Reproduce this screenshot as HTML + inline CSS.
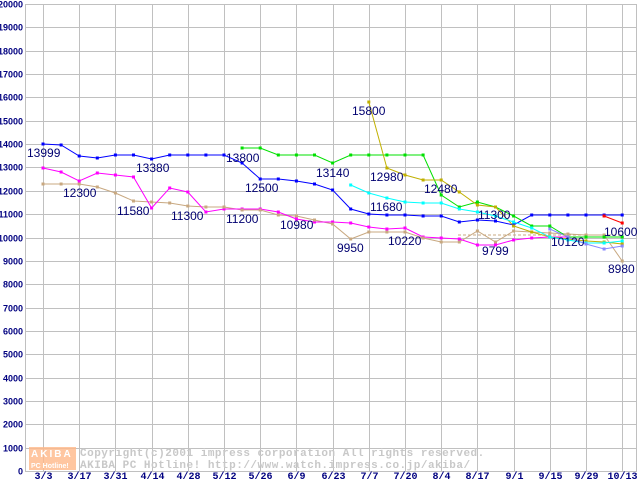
<!DOCTYPE html>
<html><head><meta charset="utf-8"><style>
html,body{margin:0;padding:0;background:#fff;}
svg{display:block;}
.yl{font:bold 9px "Liberation Sans",sans-serif;fill:#000080;}
.xl{font:bold 10px "Liberation Mono",monospace;fill:#000080;}
.lb{font:12px "Liberation Sans",sans-serif;fill:#000070;}
.wm{font:bold 11px "Liberation Mono",monospace;fill:#c8c8c8;letter-spacing:0.5px;}
</style></head><body>
<svg width="640" height="480" viewBox="0 0 640 480" xmlns="http://www.w3.org/2000/svg">
<rect width="640" height="480" fill="#fff"/>
<g stroke="#c0c0c0" stroke-width="1" id="grid"></g>
<g id="ylab"></g><g id="xlab"></g>
<g fill="none" stroke-width="1">
<polyline id="tan" stroke="#c8a880"/>
<polyline id="mag" stroke="#ff00ff"/>
<polyline id="blue" stroke="#0000ff"/>
<polyline id="green" stroke="#00e000"/>
<polyline id="olive" stroke="#c0b000"/>
<polyline id="cyan" stroke="#00ffff"/>
<polyline id="lav" stroke="#8888ff"/>
<polyline id="red" stroke="#ff0000"/>
<polyline points="458,235 622,235" stroke="#c8a880" stroke-dasharray="3,2"/>
</g>
<g id="marks"></g>
<g class="lb">
<text x="27" y="157">13999</text>
<text x="63" y="197">12300</text>
<text x="136" y="172">13380</text>
<text x="117" y="215">11580</text>
<text x="171" y="220">11300</text>
<text x="226" y="223">11200</text>
<text x="226" y="162">13800</text>
<text x="245" y="192">12500</text>
<text x="280" y="229">10980</text>
<text x="316" y="177">13140</text>
<text x="337" y="252">9950</text>
<text x="352" y="115">15800</text>
<text x="370" y="211">11680</text>
<text x="370" y="181">12980</text>
<text x="388" y="245">10220</text>
<text x="424" y="193">12480</text>
<text x="478" y="219">11300</text>
<text x="482" y="255">9799</text>
<text x="551" y="246">10120</text>
<text x="604" y="236">10600</text>
<text x="608" y="273">8980</text>
</g>
<rect x="29" y="447" width="47" height="23" fill="#ffb888" opacity="0.8"/>
<text x="31" y="457" style="font:bold 10px 'Liberation Sans',sans-serif;fill:#fff;letter-spacing:2px">AKIBA</text>
<text x="31" y="468" style="font:bold 7px 'Liberation Sans',sans-serif;fill:#fff">PC Hotline!</text>
<text x="80" y="456" class="wm">Copyright(c)2001 impress corporation All rights reserved.</text>
<text x="80" y="468" class="wm">AKIBA PC Hotline!  http://www.watch.impress.co.jp/akiba/</text>
</svg>
<script>
const NS="http://www.w3.org/2000/svg";
const X=k=>43+18.1*k, Y=v=>471-v*0.02335;
const g=document.getElementById('grid');
function el(p,t,a){const e=document.createElementNS(NS,t);for(const k in a)e.setAttribute(k,a[k]);p.appendChild(e);return e;}
for(let i=0;i<=20;i++){const y=Math.round(Y(i*1000))+0.5;el(g,'line',{x1:25,x2:637,y1:y,y2:y});
 const t=el(document.getElementById('ylab'),'text',{x:23,y:y+3,'text-anchor':'end','class':'yl'});t.textContent=i*1000;}
el(g,'line',{x1:25.5,x2:25.5,y1:4,y2:472});el(g,'line',{x1:636.5,x2:636.5,y1:4,y2:472});
const xs=["3/3","3/17","3/31","4/14","4/28","5/12","5/26","6/9","6/23","7/7","7/20","8/4","8/17","9/1","9/15","9/29","10/13"];
xs.forEach((s,i)=>{const x=Math.round(X(2*i))+0.5;el(g,'line',{x1:x,x2:x,y1:4,y2:472});
 const t=el(document.getElementById('xlab'),'text',{x:x,y:479,'text-anchor':'middle','class':'xl'});t.textContent=s;});
const S={
blue:[[0,144],[1,145],[2,156],[3,158],[4,155],[5,155],[6,159],[7,155],[8,155],[9,155],[10,155],[11,163],[12,179],[13,179],[14,181],[15,184],[16,190],[17,209],[18,214],[19,215],[20,215],[21,216],[22,216],[23,222],[24,220],[25,221],[26,225],[27,215],[28,215],[29,215],[30,215],[31,215],[32,215]],
mag:[[0,168],[1,172],[2,181],[3,173],[4,175],[5,177],[6,208],[7,188],[8,192],[9,212],[10,209],[11,209],[12,209],[13,212],[14,219],[15,222],[16,222],[17,223],[18,227],[19,229],[20,228],[21,237],[22,238],[23,239],[24,245],[25,245],[26,240],[27,238],[28,237],[29,237],[30,237],[31,237],[32,237]],
tan:[[0,184],[1,184],[2,184],[3,187],[4,193],[5,201],[6,202],[7,203],[8,206],[9,207],[10,207],[11,210],[12,210],[13,215],[14,216],[15,220],[16,224],[17,239],[18,232],[19,232],[20,232],[21,238],[22,242],[23,242],[24,231],[25,242],[26,231],[27,232],[28,233],[29,234],[30,235],[31,235],[32,261]],
green:[[11,148],[12,148],[13,155],[14,155],[15,155],[16,163],[17,155],[18,155],[19,155],[20,155],[21,155],[22,195],[23,207],[24,202],[25,207],[26,216],[27,226],[28,226],[29,237],[30,237],[31,237],[32,237]],
olive:[[18,102],[19,168],[20,175],[21,180],[22,180],[23,192],[24,205],[25,207],[26,226],[27,232],[28,237],[29,239],[30,241],[31,242],[32,244]],
cyan:[[17,185],[18,193],[19,198],[20,202],[21,203],[22,203],[23,209],[24,212],[25,216],[26,222],[27,228],[28,237],[29,240],[30,243],[31,243],[32,241]],
lav:[[28,229],[29,237],[30,244],[31,249],[32,246]],
red:[[31,216],[32,223]]};
const m=document.getElementById('marks');
for(const k in S){const pts=S[k].map(([i,y])=>[X(i),y]);
 document.getElementById(k).setAttribute('points',pts.map(p=>p.join(',')).join(' '));
 const c=getComputedStyle(document.getElementById(k)).stroke;
 pts.forEach(p=>el(m,'rect',{x:p[0]-1.5,y:p[1]-1.5,width:3,height:3,fill:c}));}
</script>
</body></html>
